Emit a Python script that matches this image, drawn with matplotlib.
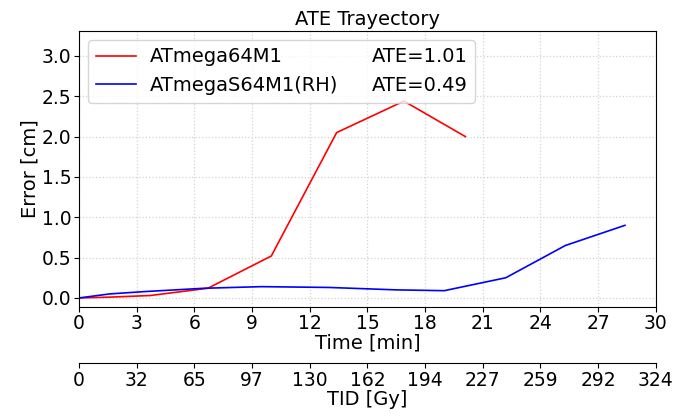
import numpy as np
import matplotlib.pyplot as plt
from matplotlib.lines import Line2D

# time in minutes / error in cm
red_t = [0, 1.6, 3.7, 6.7, 10.0, 13.4, 16.9, 20.1]
red_err = [0.0, 0.01, 0.03, 0.12, 0.52, 2.05, 2.44, 2.0]
blue_t = [0, 1.6, 3.5, 6.5, 9.5, 13.0, 16.5, 19.0, 22.2, 25.3, 28.4]
blue_err = [0.0, 0.05, 0.08, 0.12, 0.14, 0.13, 0.10, 0.09, 0.25, 0.65, 0.90]

names = ['ATmega64M1', 'ATmegaS64M1(RH)']
ate_labels = ['ATE=1.01', 'ATE=0.49']

time_ticks = [0, 3, 6, 9, 12, 15, 18, 21, 24, 27, 30]
tid_labels = ['0', '32', '65', '97', '130', '162', '194', '227', '259', '292', '324']

fig = plt.figure(figsize=(6.88, 4.18), dpi=100)
ax = fig.add_axes([0.115, 0.266, 0.838, 0.66])

ax.plot(red_t, red_err, color='red', lw=1.2)
ax.plot(blue_t, blue_err, color='blue', lw=1.2)

ax.set_xlim(0, 30)
ax.set_ylim(-0.11, 3.31)
ax.set_xticks(time_ticks)
ax.set_yticks([0, 0.5, 1.0, 1.5, 2.0, 2.5, 3.0])
ax.tick_params(labelsize=13.5, pad=2)
ax.grid(True, linestyle=':', color='lightgray', lw=0.9)
ax.set_title('ATE Trayectory', fontsize=14, pad=4)
ax.set_xlabel('Time [min]', fontsize=14, labelpad=0)
ax.set_ylabel('Error [cm]', fontsize=14, labelpad=2)

sec = ax.secondary_xaxis(-0.205)
sec.set_xticks(time_ticks)
sec.set_xticklabels(tid_labels)
sec.tick_params(labelsize=13.5, pad=2)
sec.set_xlabel('TID [Gy]', fontsize=14, labelpad=0)

handles = [Line2D([], [], color='red', lw=1.2),
           Line2D([], [], color='blue', lw=1.2),
           Line2D([], [], alpha=0),
           Line2D([], [], alpha=0)]
ax.legend(handles, names + ate_labels, ncol=2, loc='upper left',
          fontsize=14, handlelength=2.05, handletextpad=0.75,
          columnspacing=-1.1, borderaxespad=0.45)

plt.savefig('out.png')
